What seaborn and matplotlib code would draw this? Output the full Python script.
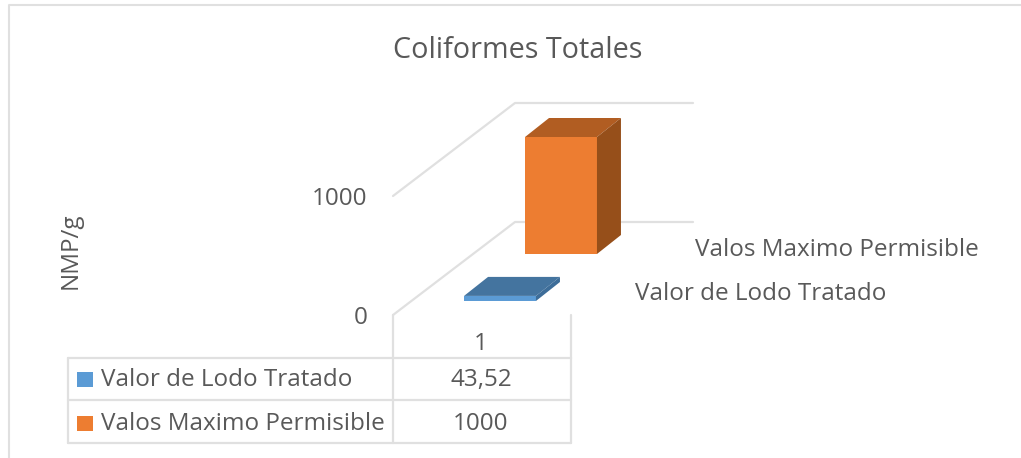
import pandas as pd
import seaborn as sns
import matplotlib.pyplot as plt
from matplotlib.patches import Polygon, Rectangle
from matplotlib.transforms import IdentityTransform

# datos del grafico
titulo = "Coliformes Totales"
categorias = ["1"]
series = ["Valor de Lodo Tratado", "Valos Maximo Permisible"]
valores = [43.52, 1000]
etiquetas_valor = ["43,52", "1000"]
ticks_y = [0, 1000]
colores = ["#5B9BD5", "#ED7D31"]
colores_techo = ["#44749F", "#B15D22"]
colores_lado = ["#3D6D99", "#964F1A"]

W, H = 1021, 458
GRIS = "#595959"
LINEA = "#E0E0E0"
FUENTE = "Open Sans"
TAM = 17.5

sns.set_theme(style="white")
plt.rcParams["font.family"] = [FUENTE, "DejaVu Sans"]

fig = plt.figure(figsize=(W / 100, H / 100), dpi=100, facecolor="white")


def caja(x0, y0, x1, y1):
    # de pixeles de la imagen a fraccion de figura
    return [x0 / W, 1 - y1 / H, (x1 - x0) / W, (y1 - y0) / H]


# capa de fondo en pixeles: marco, tabla y textos
base = fig.add_axes([0, 0, 1, 1], zorder=0)
base.set_xlim(0, W)
base.set_ylim(H, 0)
base.axis("off")

base.plot([9, 9, W], [H, 5, 5], color=LINEA, lw=1.5)
for x in [68, 393, 571]:
    base.plot([x, x], [358, 443], color=LINEA, lw=1.6)
for y in [358, 400, 443]:
    base.plot([68, 571], [y, y], color=LINEA, lw=1.6)
for x in [393, 571]:
    base.plot([x, x], [315, 358], color=LINEA, lw=1.6)

base.text(518, 50, titulo, ha="center", va="center", fontsize=20.7, color=GRIS)
base.text(71, 251, "NMP/g", rotation=90, ha="center", va="center", fontsize=TAM, color=GRIS)
base.text(481, 344, categorias[0], ha="center", va="center", fontsize=TAM, color=GRIS)

filas_y = [380, 424]
for nombre, etiqueta, color, y in zip(series, etiquetas_valor, colores, filas_y):
    base.add_patch(Rectangle((77, y - 8), 16, 15, color=color, lw=0))
    base.text(101, y, nombre, ha="left", va="center", fontsize=TAM, color=GRIS)
    base.text(481, y, etiqueta, ha="center", va="center", fontsize=TAM, color=GRIS)

base.text(695, 250, series[1], ha="left", va="center", fontsize=TAM, color=GRIS)
base.text(635, 294, series[0], ha="left", va="center", fontsize=TAM, color=GRIS)

# pared con la escala de valores
pared = fig.add_axes(caja(393, 196, 571, 315), zorder=1)
pared.set_ylim(0, 1000)
pared.set_xlim(0, 1)
pared.patch.set_alpha(0)
sns.despine(ax=pared, left=True, bottom=True)
pared.set_xticks([])
pared.set_yticks(ticks_y)
pared.tick_params(axis="y", length=0, pad=18.5, labelsize=TAM, labelcolor=GRIS)
for v in ticks_y:
    x0, y0 = pared.transData.transform((0, v))
    pared.plot([x0, x0 + 122, x0 + 300], [y0, y0 + 93, y0 + 93], color=LINEA, lw=1.6,
               transform=IdentityTransform(), clip_on=False)

# barras: cada serie en su propio eje, desplazado en profundidad
cajas = [caja(411, 184, 589, 301), caja(472, 137, 650, 254)]
prof_x, prof_y = 24, 19
for i in [1, 0]:
    ax = fig.add_axes(cajas[i], zorder=3 if i == 0 else 2)
    tabla = pd.DataFrame({"categoria": categorias, "valor": [valores[i]]})
    sns.barplot(data=tabla, x="categoria", y="valor", color=colores[i], saturation=1,
                width=0.404, linewidth=0, ax=ax)
    ax.set_ylim(0, 1000)
    ax.patch.set_alpha(0)
    ax.axis("off")
    caja_barra = ax.patches[0].get_window_extent()
    x0, x1, y0, y1 = caja_barra.x0, caja_barra.x1, caja_barra.y0, caja_barra.y1
    techo = [(x0, y1), (x1, y1), (x1 + prof_x, y1 + prof_y), (x0 + prof_x, y1 + prof_y)]
    lado = [(x1, y0), (x1, y1), (x1 + prof_x, y1 + prof_y), (x1 + prof_x, y0 + prof_y)]
    ax.add_patch(Polygon(techo, color=colores_techo[i], lw=0, transform=IdentityTransform(), clip_on=False))
    ax.add_patch(Polygon(lado, color=colores_lado[i], lw=0, transform=IdentityTransform(), clip_on=False))

fig.savefig("out.png", dpi=100)
